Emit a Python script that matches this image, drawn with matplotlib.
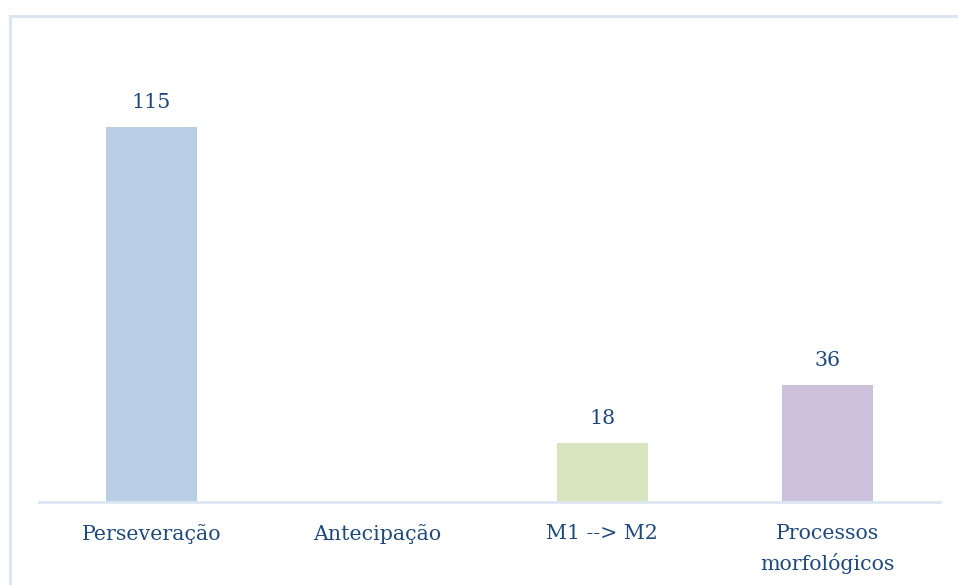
import matplotlib
matplotlib.use("Agg")
import matplotlib.pyplot as plt
from matplotlib.patches import Rectangle

categories = ["Perseveração", "Antecipação", "M1 --> M2", "Processos\nmorfológicos"]
values = [115, 0, 18, 36]
bar_colors = ["#B9CDE5", "#B9CDE5", "#D7E4BD", "#CCC1DA"]
text_color = "#1F497D"
line_color = "#DCE6F2"

W, H = 958, 585
fig = plt.figure(figsize=(W / 100, H / 100), dpi=100)

# outer frame of the chart area
fig.patches.append(Rectangle((9.5 / W, -0.1), 1.2, (H - 15.5) / H + 0.1,
                             transform=fig.transFigure, fill=False,
                             edgecolor=line_color, linewidth=2.2, zorder=0))

left, right, bottom, top = 39, 940, 502, 46
ax = fig.add_axes([left / W, 1 - bottom / H, (right - left) / W, (bottom - top) / H])

x = range(len(categories))
ax.bar(x, values, width=0.405, color=bar_colors, zorder=2)

ax.set_xlim(-0.5, len(categories) - 0.5)
ax.set_ylim(0, 140)

for xi, v in zip(x, values):
    if v > 0:
        ax.text(xi, v + 4.6, str(v), ha="center", va="bottom",
                fontsize=14.8, color=text_color, family="DejaVu Serif")

ax.set_xticks(list(x))
ax.set_xticklabels(categories, fontsize=14.8, color=text_color,
                   family="DejaVu Serif", linespacing=1.55, va="top")
ax.tick_params(axis="x", length=0, pad=16)
ax.set_yticks([])

for s in ["top", "right", "left"]:
    ax.spines[s].set_visible(False)
ax.spines["bottom"].set_color(line_color)
ax.spines["bottom"].set_linewidth(2)

fig.savefig("out.png", dpi=100)
